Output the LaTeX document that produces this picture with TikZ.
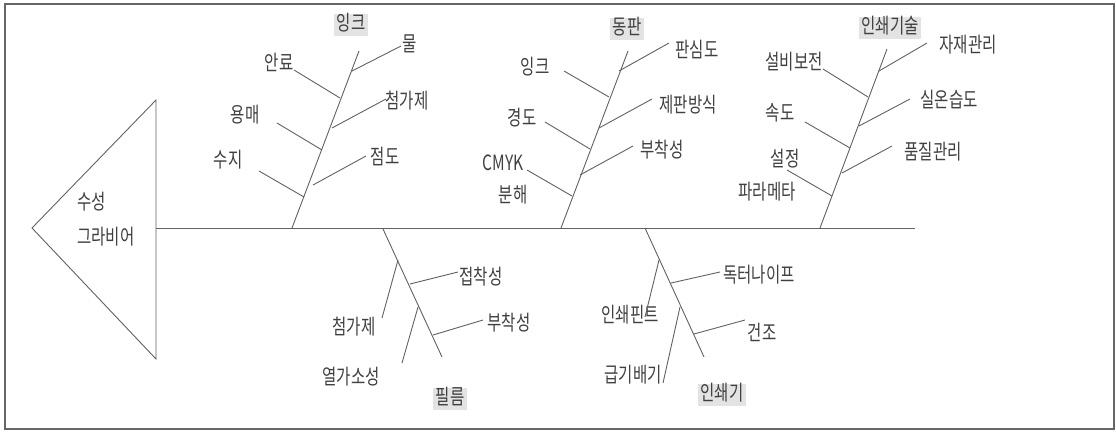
\documentclass[tikz,border=0pt]{standalone}
\usepackage{fontspec}
\newfontfamily\kr[FakeStretch=0.74]{Noto Sans CJK KR}
\begin{document}
\begin{tikzpicture}[x=1pt,y=-1pt,
  bone/.style={draw=black!62, line width=0.9pt},
  lbl/.style={font=\kr\fontsize{21}{21}\selectfont, text=black!75, inner sep=1pt},
  ttl/.style={lbl, fill=black!11, inner xsep=2.5pt, inner ysep=1pt, text height=15.5pt, text depth=4.5pt}]
\useasboundingbox (0,0) rectangle (1116,431);
\draw[black!60, line width=1.5pt] (5,4) rectangle (1114,429);

% head
\coordinate (hT) at (156,100);
\coordinate (hL) at (32,228);
\coordinate (hB) at (156,359);
\coordinate (hM) at (156,228);
\coordinate (tail) at (915,228);
\draw[bone] (hT) -- (hL) -- (hB) -- cycle;
\draw[bone] (hM) -- (tail);
\node[lbl, anchor=west] (head1) at (76,202) {수성};
\node[lbl, anchor=west] (head2) at (76,237) {그라비어};

% ---------- 잉크 ----------
\coordinate (b1s) at (292,228); \coordinate (b1e) at (359,51);
\draw[bone] (b1s) -- (b1e);
\node[ttl] (t1) at (351,25) {잉크};
\node[lbl] (l11) at (279,62) {안료};
\node[lbl] (l12) at (245,115) {용매};
\node[lbl] (l13) at (228,160) {수지};
\node[lbl] (r11) at (410,44) {물};
\node[lbl] (r12) at (407,101) {첨가제};
\node[lbl] (r13) at (385,157) {점도};
\coordinate (a11) at (294,70);  \coordinate (c11) at (340,98);
\coordinate (a12) at (277,123); \coordinate (c12) at (322,150);
\coordinate (a13) at (259,171); \coordinate (c13) at (304,197);
\coordinate (a14) at (352,71);  \coordinate (c14) at (401,46);
\coordinate (a15) at (332,128); \coordinate (c15) at (386,99);
\coordinate (a16) at (313,185); \coordinate (c16) at (366,156);
\draw[bone] (a11) -- (c11); \draw[bone] (a12) -- (c12); \draw[bone] (a13) -- (c13);
\draw[bone] (a14) -- (c14); \draw[bone] (a15) -- (c15); \draw[bone] (a16) -- (c16);

% ---------- 동판 ----------
\coordinate (b2s) at (561,228); \coordinate (b2e) at (628,51);
\draw[bone] (b2s) -- (b2e);
\node[ttl] (t2) at (627,29) {동판};
\node[lbl] (l21) at (535,67) {잉크};
\node[lbl] (l22) at (522,118) {경도};
\node[lbl] (l23) at (503,163) {CMYK};
\node[lbl] (l24) at (513,195) {분해};
\node[lbl] (r21) at (697,50) {판심도};
\node[lbl] (r22) at (688,105) {제판방식};
\node[lbl] (r23) at (662,150) {부착성};
\coordinate (a21) at (564,71);  \coordinate (c21) at (609,97);
\coordinate (a22) at (545,122); \coordinate (c22) at (590,149);
\coordinate (a23) at (527,170); \coordinate (c23) at (572,196);
\coordinate (a24) at (619,71);  \coordinate (c24) at (669,43);
\coordinate (a25) at (599,128); \coordinate (c25) at (652,99);
\coordinate (a26) at (580,175); \coordinate (c26) at (633,146);
\draw[bone] (a21) -- (c21); \draw[bone] (a22) -- (c22); \draw[bone] (a23) -- (c23);
\draw[bone] (a24) -- (c24); \draw[bone] (a25) -- (c25); \draw[bone] (a26) -- (c26);

% ---------- 인쇄기술 ----------
\coordinate (b3s) at (820,228); \coordinate (b3e) at (887,49);
\draw[bone] (b3s) -- (b3e);
\node[ttl] (t3) at (890,28) {인쇄기술};
\node[lbl] (l31) at (794,62) {설비보전};
\node[lbl] (l32) at (780,113) {속도};
\node[lbl] (l33) at (785,159) {설정};
\node[lbl] (l34) at (767,192) {파라메타};
\node[lbl] (r31) at (968,45) {자재관리};
\node[lbl] (r32) at (949,100) {실온습도};
\node[lbl] (r33) at (933,152) {품질관리};
\coordinate (a31) at (823,69);  \coordinate (c31) at (868,97);
\coordinate (a32) at (805,122); \coordinate (c32) at (850,148);
\coordinate (a33) at (787,170); \coordinate (c33) at (832,196);
\coordinate (a34) at (879,71);  \coordinate (c34) at (927,43);
\coordinate (a35) at (859,126); \coordinate (c35) at (910,99);
\coordinate (a36) at (842,173); \coordinate (c36) at (892,146);
\draw[bone] (a31) -- (c31); \draw[bone] (a32) -- (c32); \draw[bone] (a33) -- (c33);
\draw[bone] (a34) -- (c34); \draw[bone] (a35) -- (c35); \draw[bone] (a36) -- (c36);

% ---------- 필름 ----------
\coordinate (b4s) at (383,229); \coordinate (b4e) at (442,357);
\draw[bone] (b4s) -- (b4e);
\node[ttl] (t4) at (450,399) {필름};
\node[lbl] (l41) at (354,327) {첨가제};
\node[lbl] (l42) at (351,377) {열가소성};
\node[lbl] (r41) at (481,277) {접착성};
\node[lbl] (r42) at (509,323) {부착성};
\coordinate (a41) at (398,260); \coordinate (c41) at (382,318);
\coordinate (a42) at (418,307); \coordinate (c42) at (402,363);
\coordinate (a43) at (410,284); \coordinate (c43) at (458,272);
\coordinate (a44) at (433,335); \coordinate (c44) at (483,320);
\draw[bone] (a41) -- (c41); \draw[bone] (a42) -- (c42);
\draw[bone] (a43) -- (c43); \draw[bone] (a44) -- (c44);

% ---------- 인쇄기 ----------
\coordinate (b5s) at (645,228); \coordinate (b5e) at (704,357);
\draw[bone] (b5s) -- (b5e);
\node[ttl] (t5) at (722,395) {인쇄기};
\node[lbl] (l51) at (630,315) {인쇄핀트};
\node[lbl] (l52) at (633,375) {급기배기};
\node[lbl] (r51) at (759,275) {독터나이프};
\node[lbl] (r52) at (762,332) {건조};
\coordinate (a51) at (659,260); \coordinate (c51) at (645,317);
\coordinate (a52) at (680,307); \coordinate (c52) at (663,383);
\coordinate (a53) at (671,283); \coordinate (c53) at (720,272);
\coordinate (a54) at (694,334); \coordinate (c54) at (745,320);
\draw[bone] (a51) -- (c51); \draw[bone] (a52) -- (c52);
\draw[bone] (a53) -- (c53); \draw[bone] (a54) -- (c54);
\end{tikzpicture}
\end{document}
